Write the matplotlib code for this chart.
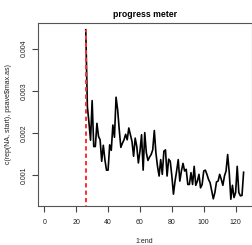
import numpy as np
import matplotlib
matplotlib.use("Agg")
import matplotlib.pyplot as plt

plt.rcParams['font.family'] = ['Liberation Sans', 'DejaVu Sans']

start = 26
end = 125
values = [0.00445, 0.00263, 0.00225, 0.00183, 0.00277, 0.00168, 0.00168, 0.00223, 0.00192, 0.00184,
          0.00133, 0.00171, 0.00137, 0.00112, 0.00112, 0.00172, 0.00159, 0.00219, 0.00190,
          0.00285, 0.00255, 0.00208, 0.00166, 0.00176, 0.00184, 0.00197, 0.00184, 0.00212,
          0.00196, 0.00180, 0.00145, 0.00188, 0.00168, 0.00129, 0.00157, 0.00196, 0.00112,
          0.00201, 0.00153, 0.00135, 0.00143, 0.00149, 0.00160, 0.00206, 0.00153, 0.00121,
          0.00098, 0.00137, 0.00102, 0.00157, 0.00160, 0.00098, 0.00138, 0.00133, 0.00098,
          0.00055, 0.00086, 0.00110, 0.00137, 0.00086, 0.00110, 0.00128, 0.00110, 0.00114,
          0.00078, 0.00078, 0.00106, 0.00078, 0.00121, 0.00076, 0.00086, 0.00102, 0.00070,
          0.00078, 0.00110, 0.00112, 0.00102, 0.00090, 0.00082, 0.00063, 0.00044, 0.00059,
          0.00084, 0.00086, 0.00102, 0.00090, 0.00076, 0.00098, 0.00110, 0.00149, 0.00106,
          0.00043, 0.00076, 0.00047, 0.00059, 0.00121, 0.00059, 0.00051, 0.00052, 0.00107]
xs = np.arange(start, end + 1)
xticks = [0, 20, 40, 60, 80, 100, 120]
yticks = [0.001, 0.002, 0.003, 0.004]
ytick_labels = ["0.001", "0.002", "0.003", "0.004"]

fig = plt.figure(figsize=(2.52, 2.45), dpi=100)
ax = fig.add_axes([38/252, 1-206/245, (251.5-38)/252, (206-23)/245])

ax.plot(xs, values, color='black', lw=1.2, solid_joinstyle='round')
vmax = max(values)
ax.vlines(start, 0, vmax, colors='#ff3030', lw=1.4, linestyles=(0, (2.2, 1.6)))

x0, x1 = 1, end
rx = (x1 - x0) * 0.04
ax.set_xlim(x0 - rx, x1 + rx)
y0, y1 = min(values), vmax
ry = (y1 - y0) * 0.04
ax.set_ylim(y0 - ry, y1 + ry)

ax.set_xticks(xticks)
ax.set_yticks(yticks)
ax.set_yticklabels(ytick_labels, rotation=90, va='center')
ax.tick_params(axis='both', direction='out', length=4.5, width=0.8, color='#444444',
               labelsize=5, labelcolor='#222222', pad=3)
ax.tick_params(axis='x', pad=4.5)
for s in ax.spines.values():
    s.set_color('#555555')
    s.set_linewidth(0.8)

ax.set_title("progress meter", fontsize=6.3, fontweight='bold', pad=4.5)
ax.set_xlabel("1:end", fontsize=5, color='#222222', labelpad=9)
ax.set_ylabel("c(rep(NA, start), psave$max.as)", fontsize=5, color='#222222', labelpad=6)

fig.savefig("out.png", dpi=100)
